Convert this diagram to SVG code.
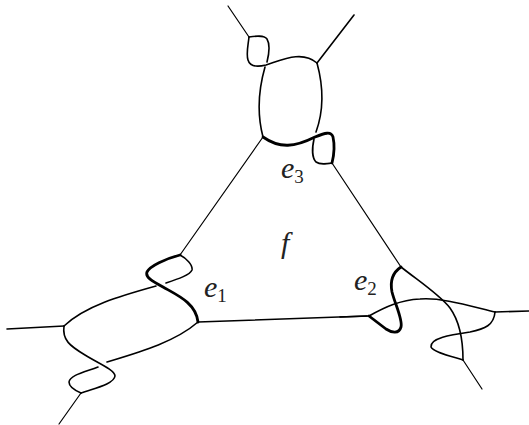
<svg xmlns="http://www.w3.org/2000/svg" width="529" height="425" viewBox="0 0 529 425">
<style>
path{fill:none;stroke:#000;stroke-linecap:round;stroke-linejoin:round}
.t{stroke-width:1.2}
.m{stroke-width:1.6}
.b{stroke-width:2.8}
text{font-family:"Liberation Serif","Times New Roman",serif;fill:#222}
.v{font-style:italic;font-size:30px}
.s{font-size:19px;font-style:normal}
</style>
<rect width="529" height="425" fill="#fff"/>
<g id="connectors">
<path class="t" d="M228 6L249 37"/>
<path class="m" d="M354 15L317 63"/>
<path class="t" d="M263 137L180 255"/>
<path class="t" d="M332 163L401 267"/>
<path class="m" d="M7 329L64 326"/>
<path class="m" d="M198 322L367 316"/>
<path class="t" d="M81 393L59 424"/>
<path class="m" d="M340 317L369 316"/>
<path class="m" d="M495 312L529 311"/>
<path class="t" d="M463 360L482 389"/>
</g>
<g id="node-top">
<path class="m" d="M249 37C248 46 246 54 248 60C250 67 258 67 266 65C282 60 302 50 317 63"/>
<path class="m" d="M249 37C256 36 264 35 267 39C270 44 269 54 267 62"/>
<path class="m" d="M265 67C257 95 258 118 263 137"/>
<path class="m" d="M317 63C323 85 324 110 316 132"/>
<path class="b" d="M263 137C280 149 295 147 315 137C325 133 331 131 333 137C335 146 334 155 332 163"/>
<path class="m" d="M314 139C312 148 312 158 316 162C320 165 326 164 332 163"/>
</g>
<g id="node-left">
<path class="b" d="M180 255C165 259 150 266 147 272C145 277 152 281 163 287C177 295 196 303 198 322"/>
<path class="m" d="M180 255C186 258 193 265 192 270C190 275 178 279 166 283"/>
<path class="m" d="M156 286C120 296 85 306 64 326"/>
<path class="m" d="M198 322C175 342 140 352 107 362"/>
<path class="m" d="M64 326C62 340 70 346 85 355C98 363 115 370 115 376C114 384 95 388 81 393"/>
<path class="m" d="M98 367C85 372 70 375 69 382C69 386 74 390 81 393"/>
</g>
<g id="node-right">
<path class="b" d="M401 267C392 273 390 282 392 292C395 304 403 320 401 327C399 334 392 333 386 329L369 316"/>
<path class="m" d="M369 316C385 307 400 300 420 299C440 297 470 306 495 312"/>
<path class="m" d="M401 267C420 282 440 295 450 308C460 322 463 340 463 360"/>
<path class="m" d="M495 312C494 325 485 329 470 332C450 335 430 338 431 347C433 352 450 356 463 360"/>
</g>
<g id="labels">
<text class="v" x="281" y="178">e<tspan class="s" dy="5">3</tspan></text>
<text class="v" x="281" y="253">f</text>
<text class="v" x="204" y="297">e<tspan class="s" dy="5">1</tspan></text>
<text class="v" x="354" y="290">e<tspan class="s" dy="5">2</tspan></text>
</g>
</svg>
